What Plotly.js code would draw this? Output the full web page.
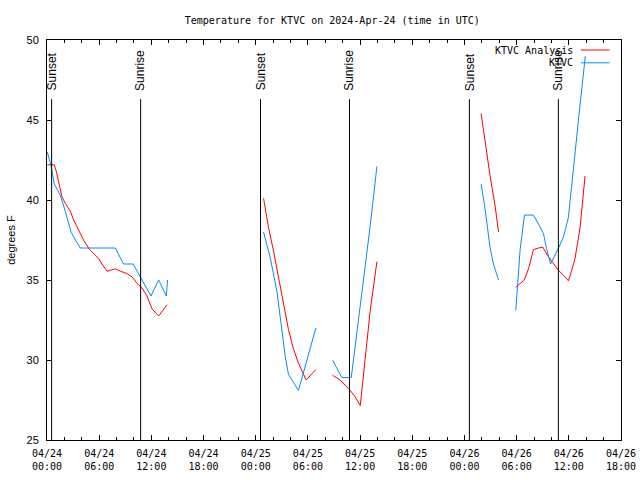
<!DOCTYPE html>
<html>
<head>
<meta charset="utf-8">
<script src="https://cdn.plot.ly/plotly-3.0.1.min.js"></script>
<style>html,body{margin:0;padding:0;background:#fff;}#chart{width:640px;height:480px;}</style>
</head>
<body>
<div id="chart"></div>
<script>
// KTVC observations (blue)
var obsTimes = [
  '2024-04-24 00:02','2024-04-24 00:29','2024-04-24 00:50','2024-04-24 01:32','2024-04-24 02:06','2024-04-24 02:46',
  '2024-04-24 03:15','2024-04-24 03:50','2024-04-24 07:51','2024-04-24 08:48','2024-04-24 09:54','2024-04-24 10:43',
  '2024-04-24 11:57','2024-04-24 12:50','2024-04-24 13:43','2024-04-24 13:52','2024-04-24 14:30',
  '2024-04-25 00:54','2024-04-25 01:40','2024-04-25 02:26','2024-04-25 03:00','2024-04-25 03:24','2024-04-25 03:46',
  '2024-04-25 04:55','2024-04-25 06:55','2024-04-25 07:30',
  '2024-04-25 08:50','2024-04-25 09:54','2024-04-25 10:59','2024-04-25 11:26','2024-04-25 12:01','2024-04-25 12:35',
  '2024-04-25 13:10','2024-04-25 13:56','2024-04-25 14:30',
  '2024-04-26 01:55','2024-04-26 02:23','2024-04-26 02:57','2024-04-26 03:20','2024-04-26 03:55','2024-04-26 04:30',
  '2024-04-26 05:54','2024-04-26 06:08','2024-04-26 06:24','2024-04-26 06:54','2024-04-26 07:56','2024-04-26 08:31',
  '2024-04-26 09:05','2024-04-26 09:28','2024-04-26 09:54','2024-04-26 10:49','2024-04-26 11:23','2024-04-26 11:57',
  '2024-04-26 12:43','2024-04-26 13:18','2024-04-26 13:54'
];
var obsTemps = [
  43.0,42.1,41.0,40.3,39.3,38.0,
  37.5,37.0,37.0,36.0,36.0,35.2,
  34.0,35.0,34.0,35.0,null,
  38.0,36.4,34.3,31.9,30.2,29.1,
  28.1,32.0,null,
  30.0,28.9,28.9,30.8,33.2,35.8,
  38.4,42.1,null,
  41.0,39.4,37.0,36.0,35.0,null,
  33.1,34.7,36.9,39.06,39.06,38.5,
  37.9,36.9,36.0,37.0,37.7,38.9,
  42.7,46.0,49.0
];

// KTVC Analysis (red)
var anaTimes = [
  '2024-04-24 00:02','2024-04-24 00:50','2024-04-24 01:04','2024-04-24 01:25','2024-04-24 01:43','2024-04-24 02:06',
  '2024-04-24 02:41','2024-04-24 03:04','2024-04-24 03:38','2024-04-24 04:12','2024-04-24 04:54','2024-04-24 05:33',
  '2024-04-24 05:56','2024-04-24 06:19','2024-04-24 06:54','2024-04-24 07:17','2024-04-24 07:51','2024-04-24 08:26',
  '2024-04-24 09:12','2024-04-24 09:46','2024-04-24 10:20','2024-04-24 10:55','2024-04-24 11:30','2024-04-24 12:04',
  '2024-04-24 12:50','2024-04-24 13:48','2024-04-24 14:30',
  '2024-04-25 00:54','2024-04-25 01:28','2024-04-25 02:03','2024-04-25 02:37','2024-04-25 03:12','2024-04-25 03:46',
  '2024-04-25 04:20','2024-04-25 04:55','2024-04-25 05:48','2024-04-25 06:55','2024-04-25 07:30',
  '2024-04-25 08:50','2024-04-25 09:43','2024-04-25 10:47','2024-04-25 11:26','2024-04-25 12:01','2024-04-25 12:35',
  '2024-04-25 13:10','2024-04-25 13:56','2024-04-25 14:30',
  '2024-04-26 01:55','2024-04-26 02:23','2024-04-26 02:57','2024-04-26 03:32','2024-04-26 03:55','2024-04-26 04:30',
  '2024-04-26 05:54','2024-04-26 06:12','2024-04-26 06:53','2024-04-26 07:22','2024-04-26 07:56','2024-04-26 08:31',
  '2024-04-26 09:01','2024-04-26 09:40','2024-04-26 10:14','2024-04-26 10:49','2024-04-26 11:23','2024-04-26 11:57',
  '2024-04-26 12:20','2024-04-26 12:43','2024-04-26 13:18','2024-04-26 13:52'
];
var anaTemps = [
  42.2,42.2,41.8,41.0,40.2,39.8,
  39.3,38.75,38.1,37.5,36.9,36.55,
  36.35,36.0,35.55,35.6,35.7,35.55,
  35.4,35.2,34.8,34.5,34.0,33.2,
  32.75,33.45,null,
  40.1,38.3,36.8,35.2,33.5,31.9,
  30.7,29.8,28.75,29.4,null,
  29.05,28.75,28.15,27.7,27.15,30.0,
  33.1,36.15,null,
  45.4,43.5,41.5,39.6,38.0,null,
  34.55,34.7,35.0,35.7,36.9,37.0,
  37.05,36.45,36.05,35.6,35.3,34.95,
  35.6,36.35,38.3,41.5
];

// Sunrise / sunset markers
var sunTimes = ['2024-04-24 00:32','2024-04-24 10:46','2024-04-25 00:33','2024-04-25 10:47','2024-04-26 00:34','2024-04-26 10:48'];
var sunLabels = ['Sunset','Sunrise','Sunset','Sunrise','Sunset','Sunrise'];

// Axis ticks
var xTickVals = ['2024-04-24 00:00','2024-04-24 06:00','2024-04-24 12:00','2024-04-24 18:00',
  '2024-04-25 00:00','2024-04-25 06:00','2024-04-25 12:00','2024-04-25 18:00',
  '2024-04-26 00:00','2024-04-26 06:00','2024-04-26 12:00','2024-04-26 18:00'];
var xTickText = ['04/24<br>00:00','04/24<br>06:00','04/24<br>12:00','04/24<br>18:00',
  '04/25<br>00:00','04/25<br>06:00','04/25<br>12:00','04/25<br>18:00',
  '04/26<br>00:00','04/26<br>06:00','04/26<br>12:00','04/26<br>18:00'];
var yTickVals = [25, 30, 35, 40, 45, 50];

var seriesNames = ['KTVC Analysis', 'KTVC'];
var seriesColors = ['#ff0000', '#0a88ff'];

var mono = 'DejaVu Sans Mono, Liberation Mono, monospace';
var sans = 'Liberation Sans, Arial, sans-serif';

var traces = [
  {x: anaTimes, y: anaTemps, type: 'scatter', mode: 'lines', name: seriesNames[0],
   line: {color: seriesColors[0], width: 1}, connectgaps: false, showlegend: false},
  {x: obsTimes, y: obsTemps, type: 'scatter', mode: 'lines', name: seriesNames[1],
   line: {color: seriesColors[1], width: 1}, connectgaps: false, showlegend: false}
];

var shapes = [];
var annotations = [];
for (var i = 0; i < sunTimes.length; i++) {
  shapes.push({type: 'line', xref: 'x', yref: 'y', x0: sunTimes[i], x1: sunTimes[i], y0: 25, y1: 46.3,
    line: {color: '#000', width: 1}});
  annotations.push({x: sunTimes[i], y: 46.7, xref: 'x', yref: 'y', text: sunLabels[i], textangle: -90,
    showarrow: false, xanchor: 'center', yanchor: 'bottom', font: {family: sans, size: 12, color: '#000'}});
}

// Legend (gnuplot style: right-justified text, sample to the right)
var legY = [0.975, 0.943];
for (var k = 0; k < seriesNames.length; k++) {
  annotations.push({x: 0.9205, y: legY[k], xref: 'paper', yref: 'paper', text: seriesNames[k],
    showarrow: false, xanchor: 'right', yanchor: 'middle', font: {family: mono, size: 10, color: '#000'}});
  shapes.push({type: 'line', xref: 'paper', yref: 'paper', x0: 0.930, x1: 0.980, y0: legY[k], y1: legY[k],
    line: {color: seriesColors[k], width: 1}});
}

annotations.push({x: -0.063, y: 0.5, xref: 'paper', yref: 'paper', text: 'degrees F', textangle: -90,
  showarrow: false, xanchor: 'center', yanchor: 'middle', font: {family: sans, size: 11, color: '#000'}});

var layout = {
  width: 640, height: 480,
  margin: {l: 47, r: 19, t: 40, b: 40, pad: 0},
  paper_bgcolor: '#fff', plot_bgcolor: '#fff',
  title: {text: 'Temperature for KTVC on 2024-Apr-24 (time in UTC)', font: {family: mono, size: 10, color: '#000'},
    x: 0.497, xref: 'paper', y: 1 - 20/480, yref: 'container', xanchor: 'center', yanchor: 'middle'},
  xaxis: {type: 'date', range: ['2024-04-24 00:00', '2024-04-26 18:00'],
    tickmode: 'array', tickvals: xTickVals, ticktext: xTickText,
    ticks: 'inside', ticklen: 5, tickcolor: '#000', tickwidth: 1, ticklabelstandoff: 4,
    minor: {tickmode: 'linear', tick0: '2024-04-24 00:00', dtick: 7200000, ticks: 'inside', ticklen: 3, tickcolor: '#000', showgrid: false},
    showline: true, linecolor: '#000', linewidth: 1, mirror: 'allticks',
    showgrid: false, zeroline: false,
    tickfont: {family: mono, size: 10, color: '#000'}},
  yaxis: {range: [25, 50], tickmode: 'array', tickvals: yTickVals,
    ticks: 'inside', ticklen: 5, tickcolor: '#000', tickwidth: 1, ticklabelstandoff: 5,
    showline: true, linecolor: '#000', linewidth: 1, mirror: 'allticks',
    showgrid: false, zeroline: false,
    tickfont: {family: sans, size: 11, color: '#000'}},
  shapes: shapes,
  annotations: annotations,
  showlegend: false
};

Plotly.newPlot('chart', traces, layout, {staticPlot: true, displayModeBar: false});
</script>
</body>
</html>
